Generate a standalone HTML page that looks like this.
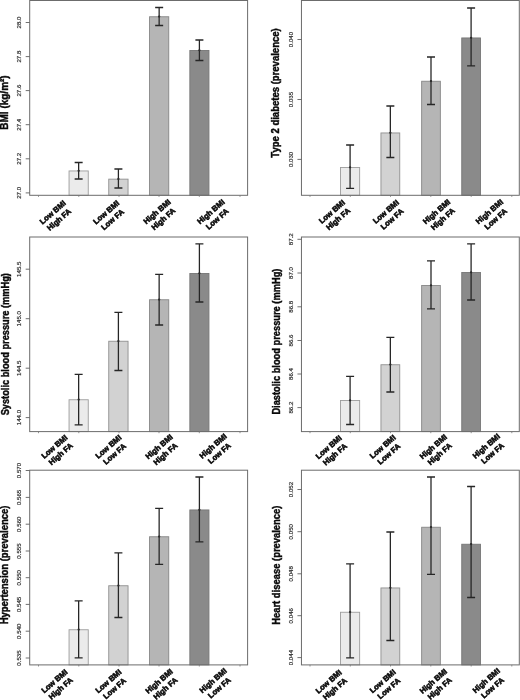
<!DOCTYPE html>
<html lang="en"><head><meta charset="utf-8"><title>Figure</title>
<style>html,body{margin:0;padding:0;background:#fff}svg{display:block}.t{font-family:"Liberation Sans",sans-serif;font-size:6.15px;fill:#333;stroke:#333;stroke-width:0.18px;text-anchor:middle}.a{font-family:"Liberation Sans",sans-serif;font-weight:bold;font-size:10.3px;fill:#0a0a0a;stroke:#0a0a0a;stroke-width:0.42px}.x{font-family:"Liberation Sans",sans-serif;font-weight:bold;font-size:7.7px;fill:#0a0a0a;stroke:#0a0a0a;stroke-width:0.55px;text-anchor:middle}</style></head><body>
<svg width="520" height="700" viewBox="0 0 520 700">
<rect width="520" height="700" fill="#fff"/>
<g>
<rect x="69.05" y="170.95" width="19.20" height="24.35" fill="#ebebeb" stroke="#9c9c9c" stroke-width="0.9"/>
<rect x="108.75" y="179.15" width="19.30" height="16.15" fill="#d2d2d2" stroke="#909090" stroke-width="0.9"/>
<rect x="149.55" y="16.75" width="19.20" height="178.55" fill="#b5b5b5" stroke="#878787" stroke-width="0.9"/>
<rect x="189.85" y="50.45" width="19.10" height="144.85" fill="#8a8a8a" stroke="#767676" stroke-width="0.9"/>
<rect x="29.7" y="0.5" width="217.90" height="194.80" fill="none" stroke="#6c6c6c" stroke-width="1"/>
<line x1="25.7" y1="22.5" x2="29.7" y2="22.5" stroke="#606060" stroke-width="0.9"/>
<text class="t" transform="translate(20.5,22.5) rotate(-90)">28.0</text>
<line x1="25.7" y1="56.6" x2="29.7" y2="56.6" stroke="#606060" stroke-width="0.9"/>
<text class="t" transform="translate(20.5,56.6) rotate(-90)">27.8</text>
<line x1="25.7" y1="90.6" x2="29.7" y2="90.6" stroke="#606060" stroke-width="0.9"/>
<text class="t" transform="translate(20.5,90.6) rotate(-90)">27.6</text>
<line x1="25.7" y1="124.7" x2="29.7" y2="124.7" stroke="#606060" stroke-width="0.9"/>
<text class="t" transform="translate(20.5,124.7) rotate(-90)">27.4</text>
<line x1="25.7" y1="158.8" x2="29.7" y2="158.8" stroke="#606060" stroke-width="0.9"/>
<text class="t" transform="translate(20.5,158.8) rotate(-90)">27.2</text>
<line x1="25.7" y1="192.9" x2="29.7" y2="192.9" stroke="#606060" stroke-width="0.9"/>
<text class="t" transform="translate(20.5,192.9) rotate(-90)">27.0</text>
<line x1="38.5" y1="195.3" x2="38.5" y2="196.9" stroke="#777" stroke-width="0.8"/>
<line x1="78.8" y1="195.3" x2="78.8" y2="196.9" stroke="#777" stroke-width="0.8"/>
<line x1="119" y1="195.3" x2="119" y2="196.9" stroke="#777" stroke-width="0.8"/>
<line x1="159" y1="195.3" x2="159" y2="196.9" stroke="#777" stroke-width="0.8"/>
<line x1="199.3" y1="195.3" x2="199.3" y2="196.9" stroke="#777" stroke-width="0.8"/>
<line x1="240" y1="195.3" x2="240" y2="196.9" stroke="#777" stroke-width="0.8"/>
<path d="M74.65 162.5H82.65M74.65 179H82.65M78.65 162.5V179" stroke="#262626" stroke-width="1.28" fill="none"/>
<circle cx="78.65" cy="170.80" r="1.15" fill="#2a2a2a"/>
<path d="M114.40 169H122.40M114.40 188H122.40M118.40 169V188" stroke="#262626" stroke-width="1.28" fill="none"/>
<circle cx="118.40" cy="179.00" r="1.15" fill="#2a2a2a"/>
<path d="M155.15 7.5H163.15M155.15 25.5H163.15M159.15 7.5V25.5" stroke="#262626" stroke-width="1.28" fill="none"/>
<circle cx="159.15" cy="16.60" r="1.15" fill="#2a2a2a"/>
<path d="M195.40 40H203.40M195.40 60.5H203.40M199.40 40V60.5" stroke="#262626" stroke-width="1.28" fill="none"/>
<circle cx="199.40" cy="50.30" r="1.15" fill="#2a2a2a"/>
<text class="a" text-anchor="middle" transform="translate(8.2,102.5) rotate(-90)" textLength="54.3" lengthAdjust="spacingAndGlyphs">BMI (kg/m²)</text>
<g transform="translate(55.8,215.8) rotate(-41)"><text class="x" y="-2.0">Low BMI</text><text class="x" y="7.6">High FA</text></g>
<g transform="translate(109.3,215.8) rotate(-41)"><text class="x" y="-2.0">Low BMI</text><text class="x" y="7.6">Low FA</text></g>
<g transform="translate(160.1,215.2) rotate(-41)"><text class="x" y="-2.0">High BMI</text><text class="x" y="7.6">High FA</text></g>
<g transform="translate(214.0,215.2) rotate(-41)"><text class="x" y="-2.0">High BMI</text><text class="x" y="7.6">Low FA</text></g>
</g>
<g>
<rect x="340.55" y="167.45" width="19.10" height="27.85" fill="#ebebeb" stroke="#9c9c9c" stroke-width="0.9"/>
<rect x="380.95" y="132.95" width="18.80" height="62.35" fill="#d2d2d2" stroke="#909090" stroke-width="0.9"/>
<rect x="421.65" y="81.25" width="18.70" height="114.05" fill="#b5b5b5" stroke="#878787" stroke-width="0.9"/>
<rect x="461.75" y="37.95" width="18.70" height="157.35" fill="#8a8a8a" stroke="#767676" stroke-width="0.9"/>
<rect x="301.45" y="0.5" width="217.85" height="194.80" fill="none" stroke="#6c6c6c" stroke-width="1"/>
<line x1="297.45" y1="39.5" x2="301.45" y2="39.5" stroke="#606060" stroke-width="0.9"/>
<text class="t" transform="translate(292.5,39.5) rotate(-90)">0.040</text>
<line x1="297.45" y1="99.5" x2="301.45" y2="99.5" stroke="#606060" stroke-width="0.9"/>
<text class="t" transform="translate(292.5,99.5) rotate(-90)">0.035</text>
<line x1="297.45" y1="159.4" x2="301.45" y2="159.4" stroke="#606060" stroke-width="0.9"/>
<text class="t" transform="translate(292.5,159.4) rotate(-90)">0.030</text>
<line x1="310" y1="195.3" x2="310" y2="196.9" stroke="#777" stroke-width="0.8"/>
<line x1="350.3" y1="195.3" x2="350.3" y2="196.9" stroke="#777" stroke-width="0.8"/>
<line x1="390.5" y1="195.3" x2="390.5" y2="196.9" stroke="#777" stroke-width="0.8"/>
<line x1="430.8" y1="195.3" x2="430.8" y2="196.9" stroke="#777" stroke-width="0.8"/>
<line x1="471.2" y1="195.3" x2="471.2" y2="196.9" stroke="#777" stroke-width="0.8"/>
<line x1="511.8" y1="195.3" x2="511.8" y2="196.9" stroke="#777" stroke-width="0.8"/>
<path d="M346.10 145H354.10M346.10 188.3H354.10M350.10 145V188.3" stroke="#262626" stroke-width="1.28" fill="none"/>
<circle cx="350.10" cy="167.30" r="1.15" fill="#2a2a2a"/>
<path d="M386.35 106H394.35M386.35 157.5H394.35M390.35 106V157.5" stroke="#262626" stroke-width="1.28" fill="none"/>
<circle cx="390.35" cy="132.80" r="1.15" fill="#2a2a2a"/>
<path d="M427.00 57H435.00M427.00 104.5H435.00M431.00 57V104.5" stroke="#262626" stroke-width="1.28" fill="none"/>
<circle cx="431.00" cy="81.10" r="1.15" fill="#2a2a2a"/>
<path d="M467.10 8H475.10M467.10 65.8H475.10M471.10 8V65.8" stroke="#262626" stroke-width="1.28" fill="none"/>
<circle cx="471.10" cy="37.80" r="1.15" fill="#2a2a2a"/>
<text class="a" text-anchor="middle" transform="translate(279.0,93.0) rotate(-90)" textLength="129.4" lengthAdjust="spacingAndGlyphs">Type 2 diabetes (prevalence)</text>
<g transform="translate(334.9,215.2) rotate(-41)"><text class="x" y="-2.0">Low BMI</text><text class="x" y="7.6">High FA</text></g>
<g transform="translate(388.9,215.2) rotate(-41)"><text class="x" y="-2.0">Low BMI</text><text class="x" y="7.6">Low FA</text></g>
<g transform="translate(439.6,215.2) rotate(-41)"><text class="x" y="-2.0">High BMI</text><text class="x" y="7.6">High FA</text></g>
<g transform="translate(492.5,215.2) rotate(-41)"><text class="x" y="-2.0">High BMI</text><text class="x" y="7.6">Low FA</text></g>
</g>
<g>
<rect x="69.05" y="399.75" width="19.20" height="31.85" fill="#ebebeb" stroke="#9c9c9c" stroke-width="0.9"/>
<rect x="108.75" y="341.25" width="19.30" height="90.35" fill="#d2d2d2" stroke="#909090" stroke-width="0.9"/>
<rect x="149.55" y="299.75" width="19.20" height="131.85" fill="#b5b5b5" stroke="#878787" stroke-width="0.9"/>
<rect x="189.85" y="273.45" width="19.10" height="158.15" fill="#8a8a8a" stroke="#767676" stroke-width="0.9"/>
<rect x="29.7" y="237.0" width="217.90" height="194.60" fill="none" stroke="#6c6c6c" stroke-width="1"/>
<line x1="25.7" y1="269.2" x2="29.7" y2="269.2" stroke="#606060" stroke-width="0.9"/>
<text class="t" transform="translate(20.5,269.2) rotate(-90)">145.5</text>
<line x1="25.7" y1="318.7" x2="29.7" y2="318.7" stroke="#606060" stroke-width="0.9"/>
<text class="t" transform="translate(20.5,318.7) rotate(-90)">145.0</text>
<line x1="25.7" y1="368.2" x2="29.7" y2="368.2" stroke="#606060" stroke-width="0.9"/>
<text class="t" transform="translate(20.5,368.2) rotate(-90)">144.5</text>
<line x1="25.7" y1="417.6" x2="29.7" y2="417.6" stroke="#606060" stroke-width="0.9"/>
<text class="t" transform="translate(20.5,417.6) rotate(-90)">144.0</text>
<line x1="38.5" y1="431.6" x2="38.5" y2="433.20000000000005" stroke="#777" stroke-width="0.8"/>
<line x1="78.8" y1="431.6" x2="78.8" y2="433.20000000000005" stroke="#777" stroke-width="0.8"/>
<line x1="119" y1="431.6" x2="119" y2="433.20000000000005" stroke="#777" stroke-width="0.8"/>
<line x1="159" y1="431.6" x2="159" y2="433.20000000000005" stroke="#777" stroke-width="0.8"/>
<line x1="199.3" y1="431.6" x2="199.3" y2="433.20000000000005" stroke="#777" stroke-width="0.8"/>
<line x1="240" y1="431.6" x2="240" y2="433.20000000000005" stroke="#777" stroke-width="0.8"/>
<path d="M74.65 374.3H82.65M74.65 424.8H82.65M78.65 374.3V424.8" stroke="#262626" stroke-width="1.28" fill="none"/>
<circle cx="78.65" cy="399.60" r="1.15" fill="#2a2a2a"/>
<path d="M114.40 312.3H122.40M114.40 370.5H122.40M118.40 312.3V370.5" stroke="#262626" stroke-width="1.28" fill="none"/>
<circle cx="118.40" cy="341.10" r="1.15" fill="#2a2a2a"/>
<path d="M155.15 274.3H163.15M155.15 325H163.15M159.15 274.3V325" stroke="#262626" stroke-width="1.28" fill="none"/>
<circle cx="159.15" cy="299.60" r="1.15" fill="#2a2a2a"/>
<path d="M195.40 243.8H203.40M195.40 302H203.40M199.40 243.8V302" stroke="#262626" stroke-width="1.28" fill="none"/>
<circle cx="199.40" cy="273.30" r="1.15" fill="#2a2a2a"/>
<text class="a" text-anchor="middle" transform="translate(9.2,344.2) rotate(-90)" textLength="142.3" lengthAdjust="spacingAndGlyphs">Systolic blood pressure (mmHg)</text>
<g transform="translate(57.5,450.2) rotate(-41)"><text class="x" y="-2.0">Low BMI</text><text class="x" y="7.6">High FA</text></g>
<g transform="translate(111.4,450.2) rotate(-41)"><text class="x" y="-2.0">Low BMI</text><text class="x" y="7.6">Low FA</text></g>
<g transform="translate(162.2,450.2) rotate(-41)"><text class="x" y="-2.0">High BMI</text><text class="x" y="7.6">High FA</text></g>
<g transform="translate(216.2,449.5) rotate(-41)"><text class="x" y="-2.0">High BMI</text><text class="x" y="7.6">Low FA</text></g>
</g>
<g>
<rect x="340.55" y="400.45" width="19.10" height="31.15" fill="#ebebeb" stroke="#9c9c9c" stroke-width="0.9"/>
<rect x="380.95" y="364.75" width="18.80" height="66.85" fill="#d2d2d2" stroke="#909090" stroke-width="0.9"/>
<rect x="421.65" y="285.45" width="18.70" height="146.15" fill="#b5b5b5" stroke="#878787" stroke-width="0.9"/>
<rect x="461.75" y="272.45" width="18.70" height="159.15" fill="#8a8a8a" stroke="#767676" stroke-width="0.9"/>
<rect x="301.45" y="237.0" width="217.85" height="194.60" fill="none" stroke="#6c6c6c" stroke-width="1"/>
<line x1="297.45" y1="239.3" x2="301.45" y2="239.3" stroke="#606060" stroke-width="0.9"/>
<text class="t" transform="translate(292.5,239.3) rotate(-90)">87.2</text>
<line x1="297.45" y1="273" x2="301.45" y2="273" stroke="#606060" stroke-width="0.9"/>
<text class="t" transform="translate(292.5,273) rotate(-90)">87.0</text>
<line x1="297.45" y1="306.8" x2="301.45" y2="306.8" stroke="#606060" stroke-width="0.9"/>
<text class="t" transform="translate(292.5,306.8) rotate(-90)">86.8</text>
<line x1="297.45" y1="340.5" x2="301.45" y2="340.5" stroke="#606060" stroke-width="0.9"/>
<text class="t" transform="translate(292.5,340.5) rotate(-90)">86.6</text>
<line x1="297.45" y1="374" x2="301.45" y2="374" stroke="#606060" stroke-width="0.9"/>
<text class="t" transform="translate(292.5,374) rotate(-90)">86.4</text>
<line x1="297.45" y1="407.6" x2="301.45" y2="407.6" stroke="#606060" stroke-width="0.9"/>
<text class="t" transform="translate(292.5,407.6) rotate(-90)">86.2</text>
<line x1="310" y1="431.6" x2="310" y2="433.20000000000005" stroke="#777" stroke-width="0.8"/>
<line x1="350.3" y1="431.6" x2="350.3" y2="433.20000000000005" stroke="#777" stroke-width="0.8"/>
<line x1="390.5" y1="431.6" x2="390.5" y2="433.20000000000005" stroke="#777" stroke-width="0.8"/>
<line x1="430.8" y1="431.6" x2="430.8" y2="433.20000000000005" stroke="#777" stroke-width="0.8"/>
<line x1="471.2" y1="431.6" x2="471.2" y2="433.20000000000005" stroke="#777" stroke-width="0.8"/>
<line x1="511.8" y1="431.6" x2="511.8" y2="433.20000000000005" stroke="#777" stroke-width="0.8"/>
<path d="M346.10 376.3H354.10M346.10 424.5H354.10M350.10 376.3V424.5" stroke="#262626" stroke-width="1.28" fill="none"/>
<circle cx="350.10" cy="400.30" r="1.15" fill="#2a2a2a"/>
<path d="M386.35 337.4H394.35M386.35 392H394.35M390.35 337.4V392" stroke="#262626" stroke-width="1.28" fill="none"/>
<circle cx="390.35" cy="364.60" r="1.15" fill="#2a2a2a"/>
<path d="M427.00 260.8H435.00M427.00 308.8H435.00M431.00 260.8V308.8" stroke="#262626" stroke-width="1.28" fill="none"/>
<circle cx="431.00" cy="285.30" r="1.15" fill="#2a2a2a"/>
<path d="M467.10 243.8H475.10M467.10 300H475.10M471.10 243.8V300" stroke="#262626" stroke-width="1.28" fill="none"/>
<circle cx="471.10" cy="272.30" r="1.15" fill="#2a2a2a"/>
<text class="a" text-anchor="middle" transform="translate(279.6,341.6) rotate(-90)" textLength="146.0" lengthAdjust="spacingAndGlyphs">Diastolic blood pressure (mmHg)</text>
<g transform="translate(331.7,450.6) rotate(-41)"><text class="x" y="-2.0">Low BMI</text><text class="x" y="7.6">High FA</text></g>
<g transform="translate(385.7,450.2) rotate(-41)"><text class="x" y="-2.0">Low BMI</text><text class="x" y="7.6">Low FA</text></g>
<g transform="translate(436.4,450.2) rotate(-41)"><text class="x" y="-2.0">High BMI</text><text class="x" y="7.6">High FA</text></g>
<g transform="translate(489.3,449.5) rotate(-41)"><text class="x" y="-2.0">High BMI</text><text class="x" y="7.6">Low FA</text></g>
</g>
<g>
<rect x="69.05" y="629.75" width="19.20" height="35.15" fill="#ebebeb" stroke="#9c9c9c" stroke-width="0.9"/>
<rect x="108.75" y="585.75" width="19.30" height="79.15" fill="#d2d2d2" stroke="#909090" stroke-width="0.9"/>
<rect x="149.55" y="536.75" width="19.20" height="128.15" fill="#b5b5b5" stroke="#878787" stroke-width="0.9"/>
<rect x="189.85" y="509.95" width="19.10" height="154.95" fill="#8a8a8a" stroke="#767676" stroke-width="0.9"/>
<rect x="29.7" y="470.2" width="217.90" height="194.70" fill="none" stroke="#6c6c6c" stroke-width="1"/>
<line x1="25.7" y1="470.5" x2="29.7" y2="470.5" stroke="#606060" stroke-width="0.9"/>
<text class="t" transform="translate(20.5,470.5) rotate(-90)">0.570</text>
<line x1="25.7" y1="497.4" x2="29.7" y2="497.4" stroke="#606060" stroke-width="0.9"/>
<text class="t" transform="translate(20.5,497.4) rotate(-90)">0.565</text>
<line x1="25.7" y1="524.2" x2="29.7" y2="524.2" stroke="#606060" stroke-width="0.9"/>
<text class="t" transform="translate(20.5,524.2) rotate(-90)">0.560</text>
<line x1="25.7" y1="551" x2="29.7" y2="551" stroke="#606060" stroke-width="0.9"/>
<text class="t" transform="translate(20.5,551) rotate(-90)">0.555</text>
<line x1="25.7" y1="577.7" x2="29.7" y2="577.7" stroke="#606060" stroke-width="0.9"/>
<text class="t" transform="translate(20.5,577.7) rotate(-90)">0.550</text>
<line x1="25.7" y1="604.4" x2="29.7" y2="604.4" stroke="#606060" stroke-width="0.9"/>
<text class="t" transform="translate(20.5,604.4) rotate(-90)">0.545</text>
<line x1="25.7" y1="631.2" x2="29.7" y2="631.2" stroke="#606060" stroke-width="0.9"/>
<text class="t" transform="translate(20.5,631.2) rotate(-90)">0.540</text>
<line x1="25.7" y1="658" x2="29.7" y2="658" stroke="#606060" stroke-width="0.9"/>
<text class="t" transform="translate(20.5,658) rotate(-90)">0.535</text>
<line x1="38.5" y1="664.9" x2="38.5" y2="666.5" stroke="#777" stroke-width="0.8"/>
<line x1="78.8" y1="664.9" x2="78.8" y2="666.5" stroke="#777" stroke-width="0.8"/>
<line x1="119" y1="664.9" x2="119" y2="666.5" stroke="#777" stroke-width="0.8"/>
<line x1="159" y1="664.9" x2="159" y2="666.5" stroke="#777" stroke-width="0.8"/>
<line x1="199.3" y1="664.9" x2="199.3" y2="666.5" stroke="#777" stroke-width="0.8"/>
<line x1="240" y1="664.9" x2="240" y2="666.5" stroke="#777" stroke-width="0.8"/>
<path d="M74.65 600.8H82.65M74.65 657.8H82.65M78.65 600.8V657.8" stroke="#262626" stroke-width="1.28" fill="none"/>
<circle cx="78.65" cy="629.60" r="1.15" fill="#2a2a2a"/>
<path d="M114.40 552.8H122.40M114.40 617.5H122.40M118.40 552.8V617.5" stroke="#262626" stroke-width="1.28" fill="none"/>
<circle cx="118.40" cy="585.60" r="1.15" fill="#2a2a2a"/>
<path d="M155.15 508.3H163.15M155.15 564.3H163.15M159.15 508.3V564.3" stroke="#262626" stroke-width="1.28" fill="none"/>
<circle cx="159.15" cy="536.60" r="1.15" fill="#2a2a2a"/>
<path d="M195.40 477H203.40M195.40 541.8H203.40M199.40 477V541.8" stroke="#262626" stroke-width="1.28" fill="none"/>
<circle cx="199.40" cy="509.80" r="1.15" fill="#2a2a2a"/>
<text class="a" text-anchor="middle" transform="translate(8.2,565.0) rotate(-90)" textLength="118.7" lengthAdjust="spacingAndGlyphs">Hypertension (prevalence)</text>
<g transform="translate(57.5,684.7) rotate(-41)"><text class="x" y="-2.0">Low BMI</text><text class="x" y="7.6">High FA</text></g>
<g transform="translate(111.4,684.7) rotate(-41)"><text class="x" y="-2.0">Low BMI</text><text class="x" y="7.6">Low FA</text></g>
<g transform="translate(162.2,684.7) rotate(-41)"><text class="x" y="-2.0">High BMI</text><text class="x" y="7.6">High FA</text></g>
<g transform="translate(216.2,684.0) rotate(-41)"><text class="x" y="-2.0">High BMI</text><text class="x" y="7.6">Low FA</text></g>
</g>
<g>
<rect x="340.55" y="612.25" width="19.10" height="52.65" fill="#ebebeb" stroke="#9c9c9c" stroke-width="0.9"/>
<rect x="380.95" y="587.95" width="18.80" height="76.95" fill="#d2d2d2" stroke="#909090" stroke-width="0.9"/>
<rect x="421.65" y="527.25" width="18.70" height="137.65" fill="#b5b5b5" stroke="#878787" stroke-width="0.9"/>
<rect x="461.75" y="544.25" width="18.70" height="120.65" fill="#8a8a8a" stroke="#767676" stroke-width="0.9"/>
<rect x="301.45" y="470.2" width="217.85" height="194.70" fill="none" stroke="#6c6c6c" stroke-width="1"/>
<line x1="297.45" y1="489.5" x2="301.45" y2="489.5" stroke="#606060" stroke-width="0.9"/>
<text class="t" transform="translate(292.5,489.5) rotate(-90)">0.052</text>
<line x1="297.45" y1="531.7" x2="301.45" y2="531.7" stroke="#606060" stroke-width="0.9"/>
<text class="t" transform="translate(292.5,531.7) rotate(-90)">0.050</text>
<line x1="297.45" y1="573.8" x2="301.45" y2="573.8" stroke="#606060" stroke-width="0.9"/>
<text class="t" transform="translate(292.5,573.8) rotate(-90)">0.048</text>
<line x1="297.45" y1="615.7" x2="301.45" y2="615.7" stroke="#606060" stroke-width="0.9"/>
<text class="t" transform="translate(292.5,615.7) rotate(-90)">0.046</text>
<line x1="297.45" y1="657.6" x2="301.45" y2="657.6" stroke="#606060" stroke-width="0.9"/>
<text class="t" transform="translate(292.5,657.6) rotate(-90)">0.044</text>
<line x1="310" y1="664.9" x2="310" y2="666.5" stroke="#777" stroke-width="0.8"/>
<line x1="350.3" y1="664.9" x2="350.3" y2="666.5" stroke="#777" stroke-width="0.8"/>
<line x1="390.5" y1="664.9" x2="390.5" y2="666.5" stroke="#777" stroke-width="0.8"/>
<line x1="430.8" y1="664.9" x2="430.8" y2="666.5" stroke="#777" stroke-width="0.8"/>
<line x1="471.2" y1="664.9" x2="471.2" y2="666.5" stroke="#777" stroke-width="0.8"/>
<line x1="511.8" y1="664.9" x2="511.8" y2="666.5" stroke="#777" stroke-width="0.8"/>
<path d="M346.10 563.8H354.10M346.10 657.8H354.10M350.10 563.8V657.8" stroke="#262626" stroke-width="1.28" fill="none"/>
<circle cx="350.10" cy="612.10" r="1.15" fill="#2a2a2a"/>
<path d="M386.35 532H394.35M386.35 640.5H394.35M390.35 532V640.5" stroke="#262626" stroke-width="1.28" fill="none"/>
<circle cx="390.35" cy="587.80" r="1.15" fill="#2a2a2a"/>
<path d="M427.00 477H435.00M427.00 574.3H435.00M431.00 477V574.3" stroke="#262626" stroke-width="1.28" fill="none"/>
<circle cx="431.00" cy="527.10" r="1.15" fill="#2a2a2a"/>
<path d="M467.10 486.5H475.10M467.10 597.5H475.10M471.10 486.5V597.5" stroke="#262626" stroke-width="1.28" fill="none"/>
<circle cx="471.10" cy="544.10" r="1.15" fill="#2a2a2a"/>
<text class="a" text-anchor="middle" transform="translate(279.6,565.2) rotate(-90)" textLength="119.3" lengthAdjust="spacingAndGlyphs">Heart disease (prevalence)</text>
<g transform="translate(331.7,685.1) rotate(-41)"><text class="x" y="-2.0">Low BMI</text><text class="x" y="7.6">High FA</text></g>
<g transform="translate(385.7,684.7) rotate(-41)"><text class="x" y="-2.0">Low BMI</text><text class="x" y="7.6">Low FA</text></g>
<g transform="translate(436.4,684.7) rotate(-41)"><text class="x" y="-2.0">High BMI</text><text class="x" y="7.6">High FA</text></g>
<g transform="translate(489.3,684.0) rotate(-41)"><text class="x" y="-2.0">High BMI</text><text class="x" y="7.6">Low FA</text></g>
</g>
</svg></body></html>
